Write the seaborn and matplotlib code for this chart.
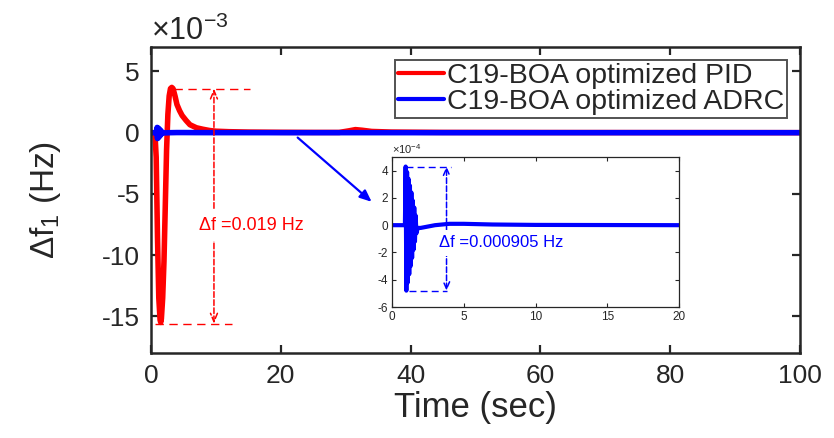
import numpy as np
import pandas as pd
import matplotlib
matplotlib.use("Agg")
import matplotlib.pyplot as plt
import seaborn as sns

# ---- data ----
# PID response, values in units of 1e-3 Hz
t_pid = [0, 0.6, 0.8, 1.0, 1.2, 1.4, 1.5, 1.6, 1.8, 2.0, 2.2, 2.4, 2.6, 2.8, 3.0,
         3.2, 3.4, 3.7, 4.0, 4.4, 4.8, 5.4, 6.0, 7.0, 8.0, 9.0, 10, 12, 15, 20,
         25, 29, 30.5, 31.5, 32.5, 34, 37, 45, 60, 100]
pid = [0, 0, -2.0, -8.5, -13.5, -15.3, -15.5, -15.2, -13.5, -10.5, -6.0, -1.4, 1.5,
       3.0, 3.6, 3.7, 3.6, 3.0, 2.3, 1.8, 1.4, 1.0, 0.65, 0.4, 0.28, 0.18, 0.12,
       0.08, 0.05, 0.03, 0.02, 0.02, 0.15, 0.25, 0.2, 0.1, 0.05, 0.02, 0.01, 0]

# ADRC response, values in units of 1e-4 Hz
t_adrc = [0, 0.9, 0.95, 1.0, 1.05, 1.1, 1.15, 1.2, 1.25, 1.3, 1.35, 1.4, 1.45,
          1.5, 1.55, 1.6, 1.65, 1.7, 1.8, 2.0, 2.5, 3.0, 4.0, 5.0, 7.0, 10, 20, 100]
adrc = [0, 0, 4.3, -4.8, 3.9, -4.2, 3.4, -3.6, 2.9, -3.0, 2.4, -2.4, 1.8, -1.8,
        1.3, -1.2, 0.7, -0.6, -0.2, -0.2, -0.1, 0.0, 0.1, 0.1, 0.05, 0.02, 0, 0]

labels = ["C19-BOA optimized PID", "C19-BOA optimized ADRC"]
colors = ["#FF0000", "#0000FF"]

x_ticks = [0, 20, 40, 60, 80, 100]
y_ticks = [-15, -10, -5, 0, 5]
inset_x_ticks = [0, 5, 10, 15, 20]
inset_y_ticks = [-6, -4, -2, 0, 2, 4]

pid_peak, pid_min = 3.6, -15.6
adrc_peak, adrc_min = 4.3, -4.8

# ---- style ----
sns.set_style("ticks")
plt.rcParams['font.family'] = ['Liberation Sans', 'DejaVu Sans']
plt.rcParams['mathtext.fontset'] = 'custom'
plt.rcParams['mathtext.rm'] = 'Liberation Sans'
plt.rcParams['mathtext.it'] = 'Liberation Sans:italic'
plt.rcParams['mathtext.bf'] = 'Liberation Sans:bold'
dark = '#262626'

df = pd.concat([
    pd.DataFrame({"t": t_pid, "v": pid, "series": labels[0]}),
    pd.DataFrame({"t": t_adrc, "v": np.array(adrc) / 10.0, "series": labels[1]}),
])
df_in = pd.DataFrame({"t": t_adrc, "v": adrc})

fig = plt.figure(figsize=(8.34, 4.38), dpi=100)
ax = fig.add_axes([151/834, 85/438, 649/834, 306/438])

sns.lineplot(data=df, x="t", y="v", hue="series", hue_order=labels,
             palette=dict(zip(labels, colors)), estimator=None, sort=False,
             linewidth=4, ax=ax, legend=True)

ax.set_xlim(0, 100)
ax.set_ylim(-18, 7)
ax.set_xticks(x_ticks)
ax.set_yticks(y_ticks)
ax.set_xticklabels([str(v) for v in x_ticks])
ax.set_yticklabels([str(v) for v in y_ticks])
ax.tick_params(direction='in', length=6, width=1.6, top=True, right=True,
               labelsize=19, colors=dark, pad=8)
for s in ax.spines.values():
    s.set_visible(True)
    s.set_linewidth(1.8)
    s.set_color(dark)
ax.set_xlabel("Time (sec)", fontsize=25, color=dark, labelpad=2)
ax.set_ylabel("Δf$_1$ (Hz)", fontsize=24, color=dark, labelpad=28)
ax.text(0.0, 1.0, r"$\times10^{-3}$", transform=ax.transAxes, fontsize=22,
        color=dark, ha='left', va='bottom')

handles, _ = ax.get_legend_handles_labels()
leg = ax.legend(handles=handles, labels=labels, loc='upper right',
                fontsize=20.5, frameon=True, fancybox=False, edgecolor=dark,
                handlelength=1.6, handletextpad=0.12, borderpad=0.1,
                labelspacing=0.0, borderaxespad=0.45)
leg.get_frame().set_linewidth(1.4)
for h in leg.get_lines():
    h.set_linewidth(3)

# annotations in main axes
ax.plot([3.5, 15.2], [pid_peak, pid_peak], color='red', ls='--', lw=1, dashes=(6, 4))
ax.plot([0.6, 12.5], [pid_min, pid_min], color='red', ls='--', lw=1, dashes=(6, 4))
ax.annotate('', xy=(9.7, pid_peak), xytext=(9.7, pid_min),
            arrowprops=dict(arrowstyle='<->,head_length=0.6,head_width=0.25',
                            color='red', ls='--', lw=1.1, shrinkA=0, shrinkB=0))
ax.text(15.4, -7.6, "Δf =0.019 Hz", color='red', fontsize=13, ha='center',
        va='center', bbox=dict(fc='white', ec='none', pad=5))
ax.annotate('', xy=(34, -5.65), xytext=(22.6, -0.4),
            arrowprops=dict(arrowstyle='-|>,head_length=0.7,head_width=0.3',
                            color='blue', lw=1.6, shrinkA=0, shrinkB=0))

# ---- inset ----
ins = fig.add_axes([392/834, (438-307)/438, 287/834, 150/438])
sns.lineplot(data=df_in, x="t", y="v", color=colors[1], estimator=None,
             sort=False, linewidth=3, ax=ins)
ins.set_xlim(0, 20)
ins.set_ylim(-6, 5)
ins.set_xticks(inset_x_ticks)
ins.set_yticks(inset_y_ticks)
ins.set_xticklabels([str(v) for v in inset_x_ticks])
ins.set_yticklabels([str(v) for v in inset_y_ticks])
ins.set_xlabel("")
ins.set_ylabel("")
ins.tick_params(direction='in', length=3, width=0.8, top=True, right=True,
                labelsize=8.5, colors=dark, pad=3)
for s in ins.spines.values():
    s.set_visible(True)
    s.set_linewidth(0.9)
    s.set_color(dark)
ins.text(0.0, 1.01, r"$\times10^{-4}$", transform=ins.transAxes, fontsize=8,
         color=dark, ha='left', va='bottom')
ins.plot([1.0, 4.1], [adrc_peak, adrc_peak], color='blue', ls='--', lw=1, dashes=(5, 3))
ins.plot([1.2, 3.8], [adrc_min, adrc_min], color='blue', ls='--', lw=1, dashes=(5, 3))
ins.annotate('', xy=(3.8, adrc_peak), xytext=(3.8, adrc_min),
             arrowprops=dict(arrowstyle='<->,head_length=0.5,head_width=0.22',
                             color='blue', ls='--', lw=1.1, shrinkA=0, shrinkB=0))
ins.text(3.3, -1.3, "Δf =0.000905 Hz", color='blue', fontsize=12, ha='left',
         va='center', bbox=dict(fc='white', ec='none', pad=4))

fig.savefig("out.png", dpi=100)
